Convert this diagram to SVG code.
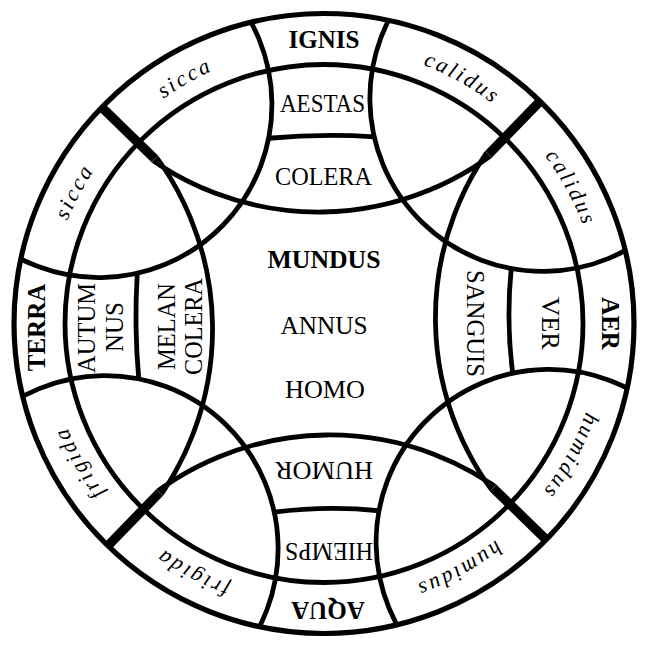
<svg xmlns="http://www.w3.org/2000/svg" width="648" height="648" viewBox="0 0 648 648">
<style>
.ln{fill:none;stroke:#000;stroke-width:4.8}
.thick{stroke:#000;stroke-width:9.4;stroke-linecap:butt}
.lab{font-family:"Liberation Serif","Times New Roman",serif;font-size:25px;fill:#000;text-anchor:middle}
.bold{font-weight:bold}
.it{font-family:"Liberation Serif","Times New Roman",serif;font-style:italic;font-size:22px;letter-spacing:2.6px;fill:#000;text-anchor:middle}
</style>
<defs>
<clipPath id="clip"><circle cx="0" cy="0" r="310"/></clipPath>
<clipPath id="cb"><path clip-rule="evenodd" d="M310,0 A310,310 0 1 1 -310,0 A310,310 0 1 1 310,0 Z M-173.9,-159.8 L-159.8,-173.9 L-211.4,-225.6 L-225.6,-211.4 Z M173.9,-159.8 L159.8,-173.9 L211.4,-225.6 L225.6,-211.4 Z M173.9,159.8 L159.8,173.9 L211.4,225.6 L225.6,211.4 Z M-173.9,159.8 L-159.8,173.9 L-211.4,225.6 L-225.6,211.4 Z"/></clipPath>
<path id="band" d="M -195.16,-195.16 A 276 276 0 1 1 195.16,195.16 A 276 276 0 1 1 -195.16,-195.16"/>
</defs>
<rect width="648" height="648" fill="#fff"/>
<g transform="translate(324 323.5)">
  <g id="connectors" class="ln">
    <g transform="rotate(-0.8)">
      <g clip-path="url(#cb)">
        <circle cx="0" cy="-403" r="291.5"/>
        <circle cx="403" cy="0" r="291.5"/>
        <circle cx="0" cy="403" r="291.5"/>
        <circle cx="-403" cy="0" r="291.5"/>
      </g>
      <g class="thick">
        <line x1="-166.9" y1="-166.9" x2="-219.9" y2="-219.9"/>
        <line x1="166.9" y1="-166.9" x2="219.9" y2="-219.9"/>
        <line x1="166.9" y1="166.9" x2="219.9" y2="219.9"/>
        <line x1="-166.9" y1="166.9" x2="-219.9" y2="219.9"/>
      </g>
      <g clip-path="url(#clip)">
        <circle cx="-222" cy="-222" r="173"/>
        <circle cx="222" cy="-222" r="173"/>
        <circle cx="222" cy="222" r="173"/>
        <circle cx="-222" cy="222" r="173"/>
      </g>
      <path d="M -52.8,-186 Q 0,-190 52.8,-186"/>
      <path d="M 188,-52.4 Q 182,0 188,52.4"/>
      <path d="M -52.4,188 Q 0,182 52.4,188"/>
      <path d="M -186,-52.8 Q -190,0 -186,52.8"/>
    </g>
    <circle cx="0" cy="0" r="259"/>
    <circle cx="0" cy="0" r="310" stroke-width="5.2"/>
  </g>
  <g id="elements">
    <text class="lab bold" x="0" y="-275.5">IGNIS</text>
    <text class="lab bold" transform="rotate(90)" x="0" y="-278">AER</text>
    <text class="lab bold" transform="rotate(180)" x="-4" y="-278.5">AQUA</text>
    <text class="lab bold" transform="rotate(-90)" x="-4" y="-279">TERRA</text>
  </g>
  <g id="qualities">
    <text class="it"><textPath href="#band" startOffset="74.7">sicca</textPath></text>
    <text class="it"><textPath href="#band" startOffset="358.9">calidus</textPath></text>
    <text class="it"><textPath href="#band" startOffset="513.0">calidus</textPath></text>
    <text class="it"><textPath href="#band" startOffset="788.1">humidus</textPath></text>
    <text class="it"><textPath href="#band" startOffset="947.1">humidus</textPath></text>
    <text class="it"><textPath href="#band" startOffset="1220.2">frigida</textPath></text>
    <text class="it"><textPath href="#band" startOffset="1377.7">frigida</textPath></text>
    <text class="it"><textPath href="#band" startOffset="1655.1">sicca</textPath></text>
  </g>
  <g id="top">
    <text class="lab" x="-1.5" y="-211.5" textLength="85" lengthAdjust="spacingAndGlyphs">AESTAS</text>
    <text class="lab" x="-0.5" y="-138.5" textLength="97" lengthAdjust="spacingAndGlyphs">COLERA</text>
  </g>
  <g id="right">
    <text class="lab" transform="rotate(90)" x="0" y="-143" textLength="107" lengthAdjust="spacingAndGlyphs">SANGUIS</text>
    <text class="lab" transform="rotate(90)" x="0" y="-218" textLength="53" lengthAdjust="spacingAndGlyphs">VER</text>
  </g>
  <g id="bottom">
    <text class="lab" transform="rotate(180)" x="0" y="-138.5" textLength="98" lengthAdjust="spacingAndGlyphs">HUMOR</text>
    <text class="lab" transform="rotate(180)" x="-5" y="-219.5" textLength="88" lengthAdjust="spacingAndGlyphs">HIEMPS</text>
  </g>
  <g id="left">
    <text class="lab" transform="rotate(-90)" x="-4.5" y="-229" textLength="90" lengthAdjust="spacingAndGlyphs">AUTUM</text>
    <text class="lab" transform="rotate(-90)" x="-3.5" y="-201" textLength="50" lengthAdjust="spacingAndGlyphs">NUS</text>
    <text class="lab" transform="rotate(-90)" x="-3" y="-149" textLength="87" lengthAdjust="spacingAndGlyphs">MELAN</text>
    <text class="lab" transform="rotate(-90)" x="-3" y="-122" textLength="97" lengthAdjust="spacingAndGlyphs">COLERA</text>
  </g>
  <g id="center">
    <text class="lab bold" x="0" y="-55.5" textLength="113" lengthAdjust="spacingAndGlyphs">MUNDUS</text>
    <text class="lab" x="0" y="10.5" textLength="87" lengthAdjust="spacingAndGlyphs">ANNUS</text>
    <text class="lab" x="1" y="74.5" textLength="80" lengthAdjust="spacingAndGlyphs">HOMO</text>
  </g>
</g>
</svg>
